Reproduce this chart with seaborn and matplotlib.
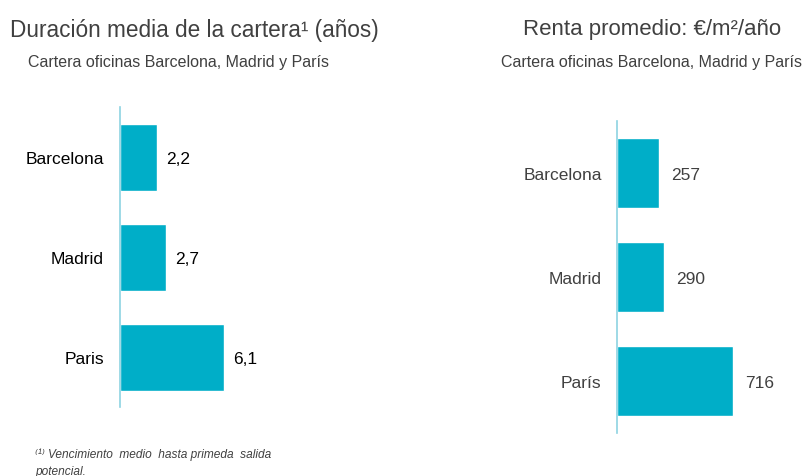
import matplotlib
matplotlib.use("Agg")
from matplotlib import pyplot as plt
import seaborn as sns
import pandas as pd

# data
dur_cities = ['Barcelona', 'Madrid', 'Paris']
dur_values = [2.2, 2.7, 6.1]
dur_labels = ['2,2', '2,7', '6,1']

rent_cities = ['Barcelona', 'Madrid', 'París']
rent_values = [257, 290, 716]
rent_labels = ['257', '290', '716']

bar_color = '#00AEC8'
spine_color = '#8ED3E2'
text_grey = '#404040'

sns.set_style('white')
plt.rcParams['font.family'] = ['Liberation Sans', 'DejaVu Sans']

W, H = 808, 477
fig = plt.figure(figsize=(W / 100, H / 100), dpi=100)


def px_axes(left, top, width, height):
    return fig.add_axes([left / W, 1 - (top + height) / H, width / W, height / H])


def draw_bars(ax, cities, values, labels, xmax, gap, pad, tcolor):
    df = pd.DataFrame({'city': cities, 'value': values})
    sns.barplot(data=df, x='value', y='city', orient='h', color=bar_color,
                saturation=1, width=0.67, ax=ax)
    ax.set_xlim(0, xmax)
    ax.set_ylim(2.5, -0.5)
    for s in ['top', 'right', 'bottom']:
        ax.spines[s].set_visible(False)
    ax.spines['left'].set_color(spine_color)
    ax.spines['left'].set_linewidth(1.2)
    ax.set_xticks([])
    ax.set_xlabel('')
    ax.set_ylabel('')
    ax.tick_params(axis='y', length=0, pad=pad, labelsize=12.5, labelcolor=tcolor)
    for i, (v, lab) in enumerate(zip(values, labels)):
        ax.annotate(lab, (v, i), xytext=(gap, -2), textcoords='offset pixels',
                    va='center', ha='left', fontsize=12.5, color=tcolor)
    ax.patch.set_alpha(0)


# left: average duration
ax1 = px_axes(120, 108, 170, 300)
draw_bars(ax1, dur_cities, dur_values, dur_labels, 10, 9, 11.5, 'black')

# right: average rent
ax2 = px_axes(617, 122, 130, 312)
draw_bars(ax2, rent_cities, rent_values, rent_labels, 800, 12, 11, text_grey)

# titles
fig.text(10 / W, 1 - 30 / H, 'Duración media de la cartera¹ (años)',
         fontsize=16.3, color=text_grey, va='center', ha='left')
fig.text(28 / W, 1 - 62 / H, 'Cartera oficinas Barcelona, Madrid y París',
         fontsize=11.5, color=text_grey, va='center', ha='left')
fig.text(652 / W, 1 - 30 / H, 'Renta promedio: €/m²/año',
         fontsize=16, color=text_grey, va='center', ha='center')
fig.text(651.5 / W, 1 - 62 / H, 'Cartera oficinas Barcelona, Madrid y París',
         fontsize=11.5, color=text_grey, va='center', ha='center')

# footnote
fig.text(35 / W, 1 - 455 / H, '⁽¹⁾ Vencimiento  medio  hasta primeda  salida',
         fontsize=8.6, style='italic', color=text_grey, va='center', ha='left')
fig.text(35 / W, 1 - 472 / H, 'potencial.',
         fontsize=8.6, style='italic', color=text_grey, va='center', ha='left')

fig.savefig('out.png', dpi=100)
